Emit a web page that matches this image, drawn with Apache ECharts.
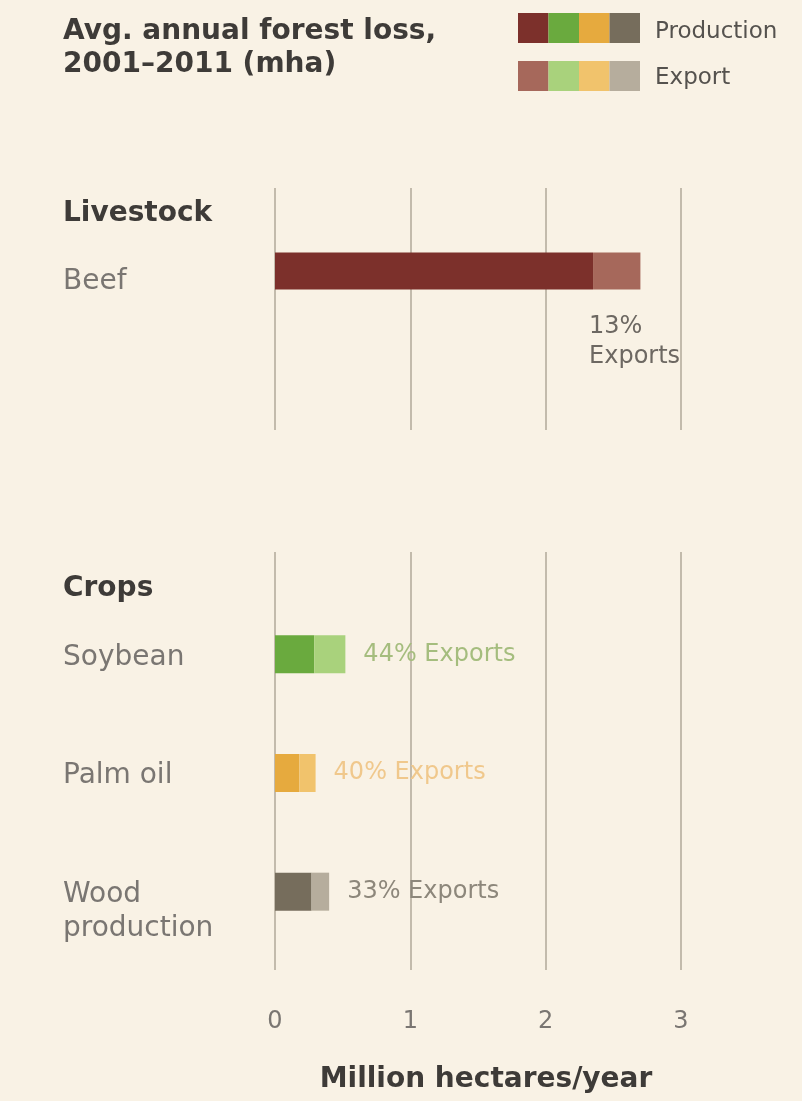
<!DOCTYPE html>
<html>
<head>
<meta charset="utf-8">
<script src="https://cdn.jsdelivr.net/npm/echarts@6/dist/echarts.min.js"></script>
<style>
  html, body { margin: 0; padding: 0; background: #f9f2e5; }
  #chart { width: 802px; height: 1101px; }
</style>
</head>
<body>
<div id="chart"></div>
<script>
// Average annual forest loss 2001–2011, million hectares per year
const livestockCategories = ['Beef'];
const livestockProduction = [2.35];
const livestockExport = [0.35];

const cropCategories = ['Soybean', 'Palm oil', 'Wood production'];
const cropProduction = [0.29, 0.18, 0.27];
const cropExport = [0.23, 0.12, 0.13];

const xTicks = [0, 1, 2, 3];

// Commodity palettes (beef, soybean, palm oil, wood)
const productionColors = ['#7c302b', '#6aaa3e', '#e6aa3e', '#766d5c'];
const exportColors = ['#a6685b', '#a9d27c', '#f1c36c', '#b6ad9d'];
const exportLabelColors = ['#6d6862', '#a5bd7e', '#f0c88c', '#8d877b'];

const FONT = 'DejaVu Sans';
const DARK = '#3e3b38';
const GREY = '#7a7672';
const GRID_LINE = '#c3bbac';
const LINE_H = 34;

function shareLabel(prod, exp) {
  return Math.round(exp / (prod + exp) * 100) + '%';
}

const chart = echarts.init(document.getElementById('chart'), null, { renderer: 'canvas' });

const plotLeft = 275, plotRight = 802 - 681;

const lineXAxis = (showLabels) => ({
  type: 'value',
  min: xTicks[0],
  max: xTicks[xTicks.length - 1],
  interval: 1,
  axisLine: { show: false },
  axisTick: { show: false },
  splitLine: { show: true, lineStyle: { color: GRID_LINE, width: 2 } },
  axisLabel: showLabels
    ? { show: true, margin: 40, fontFamily: FONT, fontSize: 24, color: GREY }
    : { show: false }
});

const barXAxis = {
  type: 'value', min: xTicks[0], max: xTicks[xTicks.length - 1], show: false
};

// Category names sit slightly below the bar centre; a thin spacer line
// above the name pushes the text block down by half its height.
const catYAxis = (cats, drop) => ({
  type: 'category',
  data: cats,
  inverse: true,
  axisLine: { show: false },
  axisTick: { show: false },
  splitLine: { show: false },
  axisLabel: {
    margin: plotLeft - 63,
    align: 'left',
    formatter: v => {
      const lines = v === 'Wood production' ? ['Wood', 'production'] : [v];
      const spacer = lines.length > 1 ? 's2' : 's1';
      return '{' + spacer + '| }\n' + lines.map(l => '{n|' + l + '}').join('\n');
    },
    rich: {
      s1: { fontSize: 1, lineHeight: drop * 2 },
      s2: { fontSize: 1, lineHeight: drop * 2 + LINE_H },
      n: { fontFamily: FONT, fontSize: 28, color: GREY, lineHeight: LINE_H }
    }
  }
});

const option = {
  backgroundColor: '#f9f2e5',
  animation: false,
  title: {
    text: 'Avg. annual forest loss,\n2001–2011 (mha)',
    left: 63,
    top: 15,
    padding: 0,
    textStyle: { fontFamily: FONT, fontSize: 28, fontWeight: 'bold', color: DARK, lineHeight: 33 }
  },
  grid: [
    // gridlines for the livestock block
    { left: plotLeft, right: plotRight, top: 188, height: 242 },
    // gridlines for the crops block, with the shared value axis
    { left: plotLeft, right: plotRight, top: 552, height: 418 },
    // livestock bars
    { left: plotLeft, right: plotRight, top: 234, height: 74 },
    // crop bars
    { left: plotLeft, right: plotRight, top: 595, height: 356 }
  ],
  xAxis: [
    Object.assign(lineXAxis(false), { gridIndex: 0 }),
    Object.assign(lineXAxis(true), {
      gridIndex: 1,
      name: 'Million hectares/year',
      nameLocation: 'middle',
      nameGap: 96,
      nameTextStyle: { fontFamily: FONT, fontSize: 28, fontWeight: 'bold', color: DARK, padding: [0, 0, 0, 16] }
    }),
    Object.assign({}, barXAxis, { gridIndex: 2 }),
    Object.assign({}, barXAxis, { gridIndex: 3 })
  ],
  yAxis: [
    { type: 'value', gridIndex: 0, show: false, splitLine: { show: false } },
    { type: 'value', gridIndex: 1, show: false, splitLine: { show: false } },
    Object.assign(catYAxis(livestockCategories, 11), { gridIndex: 2 }),
    Object.assign(catYAxis(cropCategories, 3), { gridIndex: 3 })
  ],
  series: [
    {
      name: 'Production',
      type: 'bar',
      xAxisIndex: 2, yAxisIndex: 2,
      stack: 'livestock',
      barWidth: 37,
      data: livestockProduction.map(v => ({ value: v, itemStyle: { color: productionColors[0] } }))
    },
    {
      name: 'Export',
      type: 'bar',
      xAxisIndex: 2, yAxisIndex: 2,
      stack: 'livestock',
      barWidth: 37,
      data: livestockExport.map(v => ({ value: v, itemStyle: { color: exportColors[0] } })),
      label: {
        show: true,
        position: [-4, 59],
        align: 'left',
        verticalAlign: 'top',
        fontFamily: FONT,
        fontSize: 24,
        lineHeight: 30,
        color: exportLabelColors[0],
        formatter: p => shareLabel(livestockProduction[p.dataIndex], livestockExport[p.dataIndex]) + '\nExports'
      }
    },
    {
      name: 'Production',
      type: 'bar',
      xAxisIndex: 3, yAxisIndex: 3,
      stack: 'crops',
      barWidth: 38,
      data: cropProduction.map((v, i) => ({ value: v, itemStyle: { color: productionColors[i + 1] } }))
    },
    {
      name: 'Export',
      type: 'bar',
      xAxisIndex: 3, yAxisIndex: 3,
      stack: 'crops',
      barWidth: 38,
      data: cropExport.map((v, i) => ({
        value: v,
        itemStyle: { color: exportColors[i + 1] },
        label: { color: exportLabelColors[i + 1] }
      })),
      label: {
        show: true,
        position: 'right',
        distance: 18,
        fontFamily: FONT,
        fontSize: 24,
        formatter: p => shareLabel(cropProduction[p.dataIndex], cropExport[p.dataIndex]) + ' Exports'
      }
    }
  ],
  graphic: [
    {
      type: 'text', left: 63, top: 200,
      style: { text: 'Livestock', font: 'bold 28px "DejaVu Sans"', fill: DARK }
    },
    {
      type: 'text', left: 63, top: 575,
      style: { text: 'Crops', font: 'bold 28px "DejaVu Sans"', fill: DARK }
    },
    // key: four commodity swatches per row
    ...productionColors.map((c, i) => ({
      type: 'rect', shape: { x: 518 + i * 30.5, y: 13, width: 30.5, height: 30 }, style: { fill: c }
    })),
    ...exportColors.map((c, i) => ({
      type: 'rect', shape: { x: 518 + i * 30.5, y: 61, width: 30.5, height: 30 }, style: { fill: c }
    })),
    {
      type: 'text', x: 655, y: 32,
      style: { text: 'Production', font: '23px "DejaVu Sans"', fill: '#55524e', verticalAlign: 'middle' }
    },
    {
      type: 'text', x: 655, y: 78,
      style: { text: 'Export', font: '23px "DejaVu Sans"', fill: '#55524e', verticalAlign: 'middle' }
    }
  ]
};

chart.setOption(option);
</script>
</body>
</html>
